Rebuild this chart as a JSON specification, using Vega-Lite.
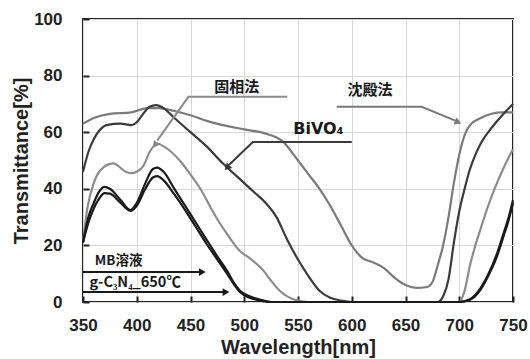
{
  "$schema": "https://vega.github.io/schema/vega-lite/v6.json",
  "width": 430,
  "height": 283,
  "autosize": {"type": "none"},
  "padding": {"left": 83, "top": 19, "right": 17, "bottom": 57},
  "background": "white",
  "config": {
    "view": {"stroke": "#222", "strokeWidth": 2},
    "axis": {
      "labelFont": "Liberation Sans", "labelFontWeight": "bold", "labelFontSize": 17, "labelColor": "#222", "labelFlush": false,
      "titleFont": "Liberation Sans", "titleFontWeight": "bold", "titleFontSize": 20, "titleColor": "#222",
      "domain": false, "tickColor": "#222", "tickWidth": 2, "tickSize": -6,
      "gridColor": "#d8d8d8", "gridWidth": 1
    }
  },
  "datasets": {
    "curves": [
      {"s": "沈殿法", "wl": 350, "T": 63}, {"s": "沈殿法", "wl": 360, "T": 65}, {"s": "沈殿法", "wl": 375, "T": 66.5}, {"s": "沈殿法", "wl": 395, "T": 67}, {"s": "沈殿法", "wl": 410, "T": 68.5}, {"s": "沈殿法", "wl": 420, "T": 68.5}, {"s": "沈殿法", "wl": 435, "T": 67.5}, {"s": "沈殿法", "wl": 450, "T": 66}, {"s": "沈殿法", "wl": 465, "T": 64}, {"s": "沈殿法", "wl": 480, "T": 62.5}, {"s": "沈殿法", "wl": 500, "T": 61}, {"s": "沈殿法", "wl": 520, "T": 59.5}, {"s": "沈殿法", "wl": 535, "T": 57}, {"s": "沈殿法", "wl": 550, "T": 50}, {"s": "沈殿法", "wl": 560, "T": 45}, {"s": "沈殿法", "wl": 570, "T": 40}, {"s": "沈殿法", "wl": 580, "T": 34}, {"s": "沈殿法", "wl": 590, "T": 27}, {"s": "沈殿法", "wl": 600, "T": 20}, {"s": "沈殿法", "wl": 610, "T": 15.5}, {"s": "沈殿法", "wl": 620, "T": 14}, {"s": "沈殿法", "wl": 630, "T": 12}, {"s": "沈殿法", "wl": 640, "T": 8.5}, {"s": "沈殿法", "wl": 650, "T": 6}, {"s": "沈殿法", "wl": 660, "T": 5}, {"s": "沈殿法", "wl": 670, "T": 5.3}, {"s": "沈殿法", "wl": 675, "T": 7}, {"s": "沈殿法", "wl": 680, "T": 13}, {"s": "沈殿法", "wl": 685, "T": 20}, {"s": "沈殿法", "wl": 690, "T": 30}, {"s": "沈殿法", "wl": 695, "T": 42}, {"s": "沈殿法", "wl": 700, "T": 52}, {"s": "沈殿法", "wl": 705, "T": 59}, {"s": "沈殿法", "wl": 710, "T": 62.5}, {"s": "沈殿法", "wl": 720, "T": 65}, {"s": "沈殿法", "wl": 730, "T": 66.5}, {"s": "沈殿法", "wl": 740, "T": 67}, {"s": "沈殿法", "wl": 750, "T": 67},

      {"s": "BiVO4", "wl": 350, "T": 46}, {"s": "BiVO4", "wl": 355, "T": 53}, {"s": "BiVO4", "wl": 360, "T": 57.5}, {"s": "BiVO4", "wl": 365, "T": 60.5}, {"s": "BiVO4", "wl": 372, "T": 62.5}, {"s": "BiVO4", "wl": 385, "T": 63}, {"s": "BiVO4", "wl": 395, "T": 62.5}, {"s": "BiVO4", "wl": 400, "T": 63.5}, {"s": "BiVO4", "wl": 405, "T": 66}, {"s": "BiVO4", "wl": 412, "T": 69}, {"s": "BiVO4", "wl": 418, "T": 69.6}, {"s": "BiVO4", "wl": 425, "T": 68.5}, {"s": "BiVO4", "wl": 435, "T": 65}, {"s": "BiVO4", "wl": 450, "T": 60}, {"s": "BiVO4", "wl": 465, "T": 55}, {"s": "BiVO4", "wl": 480, "T": 49}, {"s": "BiVO4", "wl": 490, "T": 45.5}, {"s": "BiVO4", "wl": 500, "T": 42}, {"s": "BiVO4", "wl": 510, "T": 38.5}, {"s": "BiVO4", "wl": 520, "T": 35}, {"s": "BiVO4", "wl": 530, "T": 30}, {"s": "BiVO4", "wl": 540, "T": 22}, {"s": "BiVO4", "wl": 550, "T": 15}, {"s": "BiVO4", "wl": 560, "T": 9}, {"s": "BiVO4", "wl": 570, "T": 4}, {"s": "BiVO4", "wl": 580, "T": 1.5}, {"s": "BiVO4", "wl": 590, "T": 0.5}, {"s": "BiVO4", "wl": 600, "T": 0}, {"s": "BiVO4", "wl": 680, "T": 0}, {"s": "BiVO4", "wl": 685, "T": 2}, {"s": "BiVO4", "wl": 690, "T": 8}, {"s": "BiVO4", "wl": 695, "T": 21}, {"s": "BiVO4", "wl": 700, "T": 32}, {"s": "BiVO4", "wl": 705, "T": 40}, {"s": "BiVO4", "wl": 710, "T": 47}, {"s": "BiVO4", "wl": 715, "T": 52}, {"s": "BiVO4", "wl": 720, "T": 56}, {"s": "BiVO4", "wl": 730, "T": 61.5}, {"s": "BiVO4", "wl": 740, "T": 66}, {"s": "BiVO4", "wl": 750, "T": 70},

      {"s": "固相法", "wl": 350, "T": 21}, {"s": "固相法", "wl": 354, "T": 33}, {"s": "固相法", "wl": 360, "T": 42}, {"s": "固相法", "wl": 366, "T": 46.5}, {"s": "固相法", "wl": 378, "T": 49}, {"s": "固相法", "wl": 390, "T": 46}, {"s": "固相法", "wl": 395, "T": 45.5}, {"s": "固相法", "wl": 400, "T": 46}, {"s": "固相法", "wl": 406, "T": 48}, {"s": "固相法", "wl": 412, "T": 53}, {"s": "固相法", "wl": 419, "T": 56}, {"s": "固相法", "wl": 425, "T": 55}, {"s": "固相法", "wl": 440, "T": 50}, {"s": "固相法", "wl": 450, "T": 45}, {"s": "固相法", "wl": 460, "T": 39.5}, {"s": "固相法", "wl": 470, "T": 32.5}, {"s": "固相法", "wl": 477, "T": 28}, {"s": "固相法", "wl": 485, "T": 23.5}, {"s": "固相法", "wl": 496, "T": 18}, {"s": "固相法", "wl": 505, "T": 15.5}, {"s": "固相法", "wl": 518, "T": 11}, {"s": "固相法", "wl": 525, "T": 7.5}, {"s": "固相法", "wl": 533, "T": 4}, {"s": "固相法", "wl": 540, "T": 2}, {"s": "固相法", "wl": 550, "T": 0.5}, {"s": "固相法", "wl": 560, "T": 0}, {"s": "固相法", "wl": 700, "T": 0}, {"s": "固相法", "wl": 705, "T": 4}, {"s": "固相法", "wl": 710, "T": 13}, {"s": "固相法", "wl": 715, "T": 20}, {"s": "固相法", "wl": 720, "T": 26}, {"s": "固相法", "wl": 726, "T": 33}, {"s": "固相法", "wl": 735, "T": 42}, {"s": "固相法", "wl": 742, "T": 48}, {"s": "固相法", "wl": 750, "T": 54},

      {"s": "MB溶液", "wl": 350, "T": 21}, {"s": "MB溶液", "wl": 355, "T": 30}, {"s": "MB溶液", "wl": 360, "T": 35}, {"s": "MB溶液", "wl": 365, "T": 39}, {"s": "MB溶液", "wl": 370, "T": 40.7}, {"s": "MB溶液", "wl": 375, "T": 40}, {"s": "MB溶液", "wl": 385, "T": 36}, {"s": "MB溶液", "wl": 394, "T": 32.5}, {"s": "MB溶液", "wl": 400, "T": 35}, {"s": "MB溶液", "wl": 408, "T": 42}, {"s": "MB溶液", "wl": 415, "T": 47}, {"s": "MB溶液", "wl": 419, "T": 47.5}, {"s": "MB溶液", "wl": 425, "T": 46}, {"s": "MB溶液", "wl": 435, "T": 40}, {"s": "MB溶液", "wl": 445, "T": 34}, {"s": "MB溶液", "wl": 455, "T": 28}, {"s": "MB溶液", "wl": 465, "T": 22}, {"s": "MB溶液", "wl": 475, "T": 16}, {"s": "MB溶液", "wl": 484, "T": 11}, {"s": "MB溶液", "wl": 490, "T": 7}, {"s": "MB溶液", "wl": 496, "T": 4}, {"s": "MB溶液", "wl": 505, "T": 2}, {"s": "MB溶液", "wl": 515, "T": 0.8}, {"s": "MB溶液", "wl": 525, "T": 0}, {"s": "MB溶液", "wl": 700, "T": 0}, {"s": "MB溶液", "wl": 710, "T": 1}, {"s": "MB溶液", "wl": 720, "T": 5}, {"s": "MB溶液", "wl": 726, "T": 9}, {"s": "MB溶液", "wl": 735, "T": 17}, {"s": "MB溶液", "wl": 741, "T": 24}, {"s": "MB溶液", "wl": 746, "T": 30}, {"s": "MB溶液", "wl": 750, "T": 36},

      {"s": "g-C3N4", "wl": 350, "T": 21}, {"s": "g-C3N4", "wl": 355, "T": 28}, {"s": "g-C3N4", "wl": 360, "T": 33}, {"s": "g-C3N4", "wl": 365, "T": 36.5}, {"s": "g-C3N4", "wl": 370, "T": 38.5}, {"s": "g-C3N4", "wl": 375, "T": 38.3}, {"s": "g-C3N4", "wl": 385, "T": 35}, {"s": "g-C3N4", "wl": 394, "T": 32.2}, {"s": "g-C3N4", "wl": 400, "T": 34}, {"s": "g-C3N4", "wl": 408, "T": 40}, {"s": "g-C3N4", "wl": 415, "T": 44}, {"s": "g-C3N4", "wl": 419, "T": 44.5}, {"s": "g-C3N4", "wl": 425, "T": 43}, {"s": "g-C3N4", "wl": 435, "T": 38}, {"s": "g-C3N4", "wl": 445, "T": 32.5}, {"s": "g-C3N4", "wl": 455, "T": 26.5}, {"s": "g-C3N4", "wl": 465, "T": 20.5}, {"s": "g-C3N4", "wl": 475, "T": 15}, {"s": "g-C3N4", "wl": 484, "T": 10}, {"s": "g-C3N4", "wl": 490, "T": 6.5}, {"s": "g-C3N4", "wl": 496, "T": 3.5}, {"s": "g-C3N4", "wl": 505, "T": 1.5}, {"s": "g-C3N4", "wl": 515, "T": 0.5}, {"s": "g-C3N4", "wl": 525, "T": 0}, {"s": "g-C3N4", "wl": 700, "T": 0}, {"s": "g-C3N4", "wl": 710, "T": 0.8}, {"s": "g-C3N4", "wl": 720, "T": 4.5}, {"s": "g-C3N4", "wl": 726, "T": 8.5}, {"s": "g-C3N4", "wl": 735, "T": 16}, {"s": "g-C3N4", "wl": 741, "T": 23}, {"s": "g-C3N4", "wl": 746, "T": 29}, {"s": "g-C3N4", "wl": 750, "T": 35}
    ],
    "leaders": [
      {"a": "固相法", "o": 1, "wl": 540, "T": 72.5}, {"a": "固相法", "o": 2, "wl": 448, "T": 72.5}, {"a": "固相法", "o": 3, "wl": 419, "T": 57},
      {"a": "BiVO4", "o": 1, "wl": 600, "T": 56.5}, {"a": "BiVO4", "o": 2, "wl": 508, "T": 56.5}, {"a": "BiVO4", "o": 3, "wl": 486, "T": 48.5},
      {"a": "沈殿法", "o": 1, "wl": 586, "T": 69}, {"a": "沈殿法", "o": 2, "wl": 665, "T": 69}, {"a": "沈殿法", "o": 3, "wl": 697, "T": 64},
      {"a": "MB溶液", "o": 1, "wl": 350, "T": 10.6}, {"a": "MB溶液", "o": 2, "wl": 459, "T": 10.6},
      {"a": "g-C3N4", "o": 1, "wl": 350, "T": 3.5}, {"a": "g-C3N4", "o": 2, "wl": 481, "T": 3.5}
    ]
  },
  "layer": [
    {
      "data": {"name": "curves"},
      "mark": {"type": "line", "strokeWidth": 2.2, "interpolate": "monotone"},
      "encoding": {
        "x": {"field": "wl", "type": "quantitative", "scale": {"domain": [350, 750], "nice": false}, "axis": {"values": [350, 400, 450, 500, 550, 600, 650, 700, 750], "title": "Wavelength[nm]", "labelPadding": 21, "titlePadding": 4}},
        "y": {"field": "T", "type": "quantitative", "scale": {"domain": [0, 100], "nice": false}, "axis": {"values": [0, 20, 40, 60, 80, 100], "title": "Transmittance[%]", "labelPadding": 27, "titlePadding": 2}},
        "color": {"field": "s", "type": "nominal", "legend": null, "sort": ["沈殿法", "BiVO4", "固相法", "MB溶液", "g-C3N4"], "scale": {"domain": ["沈殿法", "BiVO4", "固相法", "MB溶液", "g-C3N4"], "range": ["#7a7a7a", "#3a3a3a", "#8c8c8c", "#1a1a1a", "#1a1a1a"]}},
        "detail": {"field": "s"}
      }
    },
    {
      "data": {"name": "leaders"},
      "mark": {"type": "line", "strokeWidth": 2},
      "encoding": {
        "x": {"field": "wl", "type": "quantitative"},
        "y": {"field": "T", "type": "quantitative"},
        "order": {"field": "o"},
        "detail": {"field": "a"},
        "color": {"field": "a", "type": "nominal", "legend": null, "scale": {"domain": ["固相法", "BiVO4", "沈殿法", "MB溶液", "g-C3N4"], "range": ["#888888", "#333333", "#7a7a7a", "#222222", "#111111"]}}
      }
    },
    {
      "data": {"values": [{"wl": 417, "T": 55.5}]},
      "mark": {"type": "point", "shape": "triangle-up", "filled": true, "size": 60, "angle": 215, "color": "#888888", "opacity": 1},
      "encoding": {"x": {"field": "wl", "type": "quantitative"}, "y": {"field": "T", "type": "quantitative"}}
    },
    {
      "data": {"values": [{"wl": 484, "T": 47.5}]},
      "mark": {"type": "point", "shape": "triangle-up", "filled": true, "size": 60, "angle": 226, "color": "#333333", "opacity": 1},
      "encoding": {"x": {"field": "wl", "type": "quantitative"}, "y": {"field": "T", "type": "quantitative"}}
    },
    {
      "data": {"values": [{"wl": 699, "T": 63.5}]},
      "mark": {"type": "point", "shape": "triangle-up", "filled": true, "size": 60, "angle": 113, "color": "#7a7a7a", "opacity": 1},
      "encoding": {"x": {"field": "wl", "type": "quantitative"}, "y": {"field": "T", "type": "quantitative"}}
    },
    {
      "data": {"values": [{"wl": 461, "T": 10.6, "c": "MB溶液"}, {"wl": 483, "T": 3.5, "c": "g-C3N4"}]},
      "mark": {"type": "point", "shape": "triangle-right", "filled": true, "size": 60, "color": "#1a1a1a", "opacity": 1},
      "encoding": {"x": {"field": "wl", "type": "quantitative"}, "y": {"field": "T", "type": "quantitative"}}
    },
    {
      "data": {"values": [
        {"label": "固相法", "wl": 493, "T": 76},
        {"label": "沈殿法", "wl": 617, "T": 75}
      ]},
      "mark": {"type": "text", "font": "Noto Sans CJK JP", "fontWeight": "bold", "fontSize": 15, "color": "#1a1a1a", "align": "center", "baseline": "middle"},
      "encoding": {"x": {"field": "wl", "type": "quantitative"}, "y": {"field": "T", "type": "quantitative"}, "text": {"field": "label"}}
    },
    {
      "data": {"values": [
        {"label": "BiVO₄", "wl": 569, "T": 61}
      ]},
      "mark": {"type": "text", "font": "DejaVu Sans", "fontWeight": "bold", "fontSize": 16, "color": "#1a1a1a", "align": "center", "baseline": "middle"},
      "encoding": {"x": {"field": "wl", "type": "quantitative"}, "y": {"field": "T", "type": "quantitative"}, "text": {"field": "label"}}
    },
    {
      "data": {"values": [
        {"label": "MB溶液", "wl": 361, "T": 14.6}
      ]},
      "mark": {"type": "text", "font": "Noto Sans CJK JP", "fontWeight": "bold", "fontSize": 13.5, "color": "#1a1a1a", "align": "left", "baseline": "middle"},
      "encoding": {"x": {"field": "wl", "type": "quantitative"}, "y": {"field": "T", "type": "quantitative"}, "text": {"field": "label"}}
    },
    {
      "data": {"values": [
        {"label": "g-C₃N₄_650℃", "wl": 356, "T": 6.8}
      ]},
      "mark": {"type": "text", "font": "Noto Sans CJK JP", "fontWeight": "bold", "fontSize": 14.5, "color": "#1a1a1a", "align": "left", "baseline": "middle"},
      "encoding": {"x": {"field": "wl", "type": "quantitative"}, "y": {"field": "T", "type": "quantitative"}, "text": {"field": "label"}}
    }
  ]
}
